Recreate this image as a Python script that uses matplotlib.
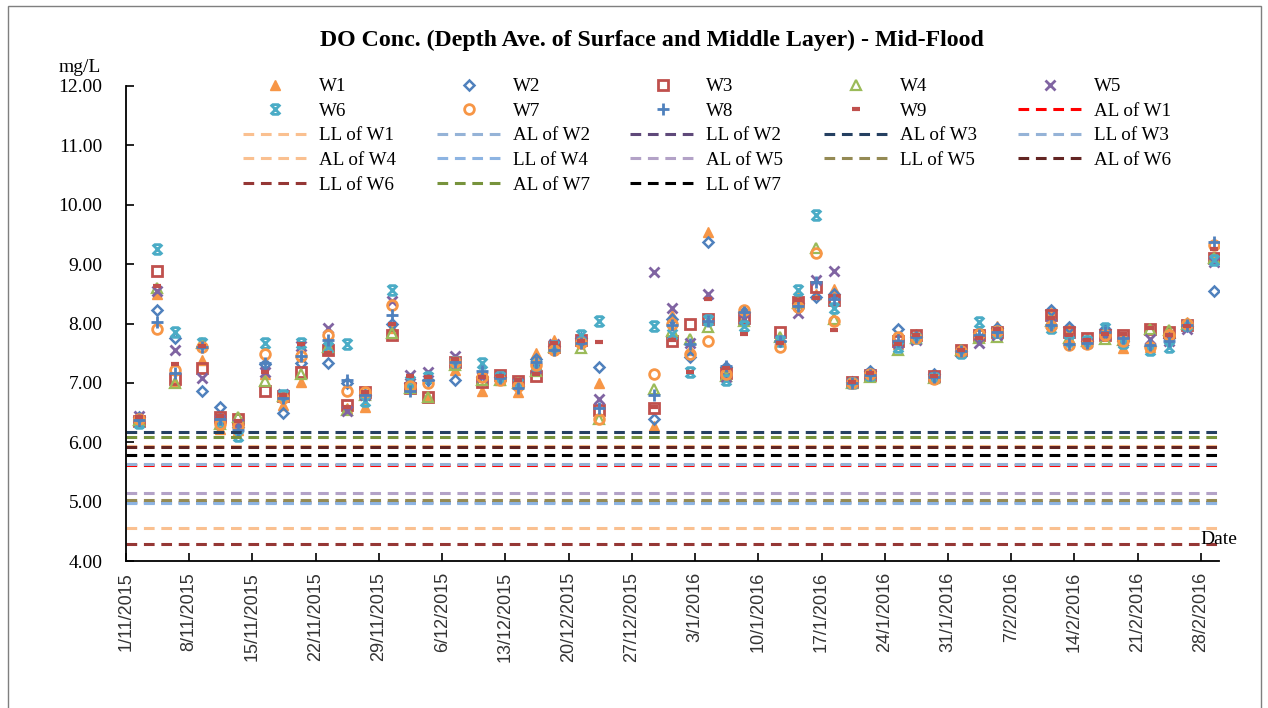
#!/usr/bin/env python3
import matplotlib
matplotlib.use("Agg")
import matplotlib.pyplot as plt
import pandas as pd
from matplotlib.path import Path
from matplotlib.patches import Rectangle
from matplotlib.ticker import FormatStrFormatter

# sampling dates (sampling done at about 10 am)
DATES = [
    "2015-11-02", "2015-11-04", "2015-11-06", "2015-11-09", "2015-11-11", "2015-11-13",
    "2015-11-16", "2015-11-18", "2015-11-20", "2015-11-23", "2015-11-25", "2015-11-27",
    "2015-11-30", "2015-12-02", "2015-12-04", "2015-12-07", "2015-12-10", "2015-12-12",
    "2015-12-14", "2015-12-16", "2015-12-18", "2015-12-21", "2015-12-23", "2015-12-29",
    "2015-12-31", "2016-01-02", "2016-01-04", "2016-01-06", "2016-01-08", "2016-01-12",
    "2016-01-14", "2016-01-16", "2016-01-18", "2016-01-20", "2016-01-22", "2016-01-25",
    "2016-01-27", "2016-01-29", "2016-02-01", "2016-02-03", "2016-02-05", "2016-02-11",
    "2016-02-13", "2016-02-15", "2016-02-17", "2016-02-19", "2016-02-22", "2016-02-24",
    "2016-02-26", "2016-02-29",
]

W1 = [6.35, 8.50, 7.02, 7.38, 6.23, 6.20, 7.15, 6.62, 7.01, 7.55, 6.58, 6.59, 7.92, 6.95, 6.76, 7.21, 6.87,
      7.05, 6.85, 7.50, 7.72, 7.75, 6.99, 6.28, 8.15, 7.55, 9.54, 7.15, 8.20, 7.72, 8.45, 8.50, 8.58, 7.00,
      7.15, 7.65, 7.82, 7.10, 7.55, 7.78, 7.95, 8.20, 7.92, 7.75, 7.82, 7.59, 7.60, 7.88, 8.03, 9.10]
W2 = [6.42, 8.22, 7.75, 6.86, 6.60, 6.25, 7.32, 6.49, 7.33, 7.33, 7.00, 6.80, 8.00, 7.00, 7.05, 7.05, 7.10,
      7.10, 6.95, 7.41, 7.62, 7.75, 7.27, 6.39, 8.08, 7.43, 9.38, 7.27, 8.20, 7.70, 8.35, 8.44, 8.50, 7.01,
      7.20, 7.91, 7.78, 7.15, 7.54, 7.85, 7.93, 8.23, 7.94, 7.70, 7.90, 7.70, 7.62, 7.75, 7.95, 8.55]
W3 = [6.35, 8.89, 7.07, 7.25, 6.42, 6.40, 6.86, 6.78, 7.18, 7.56, 6.62, 6.85, 7.80, 6.92, 6.76, 7.35, 7.01,
      7.14, 7.04, 7.11, 7.60, 7.72, 6.55, 6.57, 7.70, 8.00, 8.08, 7.17, 8.10, 7.85, 8.36, 8.61, 8.39, 7.02,
      7.14, 7.70, 7.80, 7.12, 7.55, 7.80, 7.85, 8.15, 7.85, 7.75, 7.80, 7.80, 7.91, 7.85, 7.98, 9.11]
W4 = [6.38, 8.60, 7.00, 7.68, 6.30, 6.42, 7.03, 6.78, 7.15, 7.60, 6.55, 6.80, 7.84, 6.92, 6.77, 7.30, 7.05,
      7.05, 7.00, 7.20, 7.60, 7.58, 6.40, 6.90, 7.88, 7.74, 7.94, 7.12, 8.05, 7.78, 8.35, 9.28, 8.07, 6.99,
      7.10, 7.55, 7.76, 7.08, 7.55, 7.75, 7.78, 8.05, 7.75, 7.70, 7.74, 7.72, 7.90, 7.89, 8.00, 9.10]
W5 = [6.45, 8.55, 7.56, 7.09, 6.38, 6.30, 7.18, 6.82, 7.62, 7.92, 6.52, 6.80, 8.38, 7.14, 7.19, 7.45, 7.10,
      7.10, 7.00, 7.25, 7.65, 7.70, 6.73, 8.87, 8.26, 7.68, 8.49, 7.10, 8.08, 7.72, 8.18, 8.73, 8.88, 7.00,
      7.15, 7.68, 7.73, 7.10, 7.52, 7.68, 7.80, 8.00, 7.70, 7.68, 7.80, 7.70, 7.74, 7.70, 7.90, 9.03]
W6 = [6.32, 9.25, 7.86, 7.68, 6.33, 6.11, 7.67, 6.80, 7.67, 7.60, 7.65, 6.70, 8.57, 7.04, 7.10, 7.35, 7.33,
      7.10, 6.98, 7.30, 7.62, 7.80, 8.05, 7.95, 7.83, 7.19, 8.06, 7.05, 7.95, 7.70, 8.57, 9.83, 8.26, 7.00,
      7.13, 7.60, 7.75, 7.08, 7.50, 8.03, 7.85, 7.92, 7.70, 7.70, 7.93, 7.68, 7.56, 7.61, 7.98, 9.07]
W7 = [6.40, 7.90, 7.21, 7.60, 6.30, 6.28, 7.49, 6.75, 7.45, 7.80, 6.87, 6.84, 8.32, 6.94, 7.00, 7.35, 7.10,
      7.05, 6.95, 7.30, 7.55, 7.67, 6.40, 7.15, 8.00, 7.49, 7.70, 7.15, 8.23, 7.61, 8.28, 9.18, 8.04, 6.99,
      7.15, 7.77, 7.75, 7.07, 7.54, 7.82, 7.88, 7.95, 7.63, 7.65, 7.80, 7.70, 7.60, 7.80, 8.00, 9.33]
W8 = [6.38, 8.02, 7.17, 7.60, 6.40, 6.20, 7.33, 6.75, 7.45, 7.73, 7.05, 6.80, 8.15, 6.86, 7.05, 7.35, 7.20,
      7.08, 6.92, 7.35, 7.55, 7.68, 6.57, 6.80, 7.97, 7.65, 8.05, 7.29, 8.20, 7.70, 8.30, 8.70, 8.42, 7.00,
      7.14, 7.70, 7.78, 7.10, 7.53, 7.80, 7.85, 7.98, 7.65, 7.68, 7.85, 7.75, 7.63, 7.70, 7.97, 9.38]
W9 = [6.42, 8.64, 7.31, 7.62, 6.45, 6.35, 7.18, 6.80, 7.66, 7.50, 6.60, 6.85, 8.00, 7.12, 7.10, 7.40, 7.10,
      7.12, 7.05, 7.15, 7.68, 7.70, 7.69, 6.60, 7.72, 7.18, 8.42, 7.25, 7.83, 7.68, 8.40, 8.43, 7.89, 7.01,
      7.16, 7.65, 7.80, 7.12, 7.56, 7.75, 7.90, 8.10, 7.80, 7.72, 7.82, 7.83, 7.92, 7.80, 7.95, 9.25]

# action levels (AL) and limit levels (LL), mg/L
LIMIT_LABELS = ["AL of W1", "LL of W1", "AL of W2", "LL of W2", "AL of W3", "LL of W3", "AL of W4",
                "LL of W4", "AL of W5", "LL of W5", "AL of W6", "LL of W6", "AL of W7", "LL of W7"]
LIMIT_VALUES = [5.62, 4.55, 5.64, 5.00, 6.17, 4.97, 5.93, 4.98, 5.15, 5.02, 5.92, 4.28, 6.09, 5.79]

LIMIT_COLORS = ["#FF0000", "#FAC090", "#95B3D7", "#5F497A", "#254061", "#95B3D7", "#FAC090",
                "#8DB4E2", "#B3A2C7", "#948A54", "#632523", "#953735", "#77933C", "#000000"]

# Excel "star" marker: an X closed by bars on top and bottom
STAR = Path([(-1, 1), (1, -1), (-1, -1), (1, 1), (-0.7, 1), (0.7, 1), (-0.7, -1), (0.7, -1)],
            [Path.MOVETO, Path.LINETO] * 4)

SERIES_STYLE = {
    "W1": dict(marker="^", color="#F79646", mfc="#F79646", ms=7, mew=1),
    "W2": dict(marker="D", color="#4F81BD", mfc="none", ms=5.5, mew=1.8),
    "W3": dict(marker="s", color="#C0504D", mfc="none", ms=7, mew=2),
    "W4": dict(marker="^", color="#9BBB59", mfc="none", ms=7, mew=1.6),
    "W5": dict(marker="x", color="#8064A2", mfc="none", ms=7, mew=2),
    "W6": dict(marker=STAR, color="#4BACC6", mfc="none", ms=7, mew=2),
    "W7": dict(marker="o", color="#F79646", mfc="none", ms=7, mew=2),
    "W8": dict(marker="+", color="#4F81BD", mfc="none", ms=8, mew=2),
    "W9": dict(marker="_", color="#C0504D", mfc="none", ms=6, mew=3),
}

SERIF = "Liberation Serif"
SANS = "Liberation Sans"


def main():
    dates = pd.to_datetime(DATES) + pd.Timedelta(hours=10)
    series = {"W1": W1, "W2": W2, "W3": W3, "W4": W4, "W5": W5,
              "W6": W6, "W7": W7, "W8": W8, "W9": W9}

    fig = plt.figure(figsize=(12.68, 7.08), dpi=100)
    ax = fig.add_axes([126 / 1268, 1 - 561 / 708, (1219 - 126) / 1268, (561 - 86) / 708])

    handles, labels = [], []
    for name, values in series.items():
        st = SERIES_STYLE[name]
        h, = ax.plot(dates, values, linestyle="none", marker=st["marker"], color=st["color"],
                     markerfacecolor=st["mfc"], markeredgecolor=st["color"],
                     markersize=st["ms"], markeredgewidth=st["mew"])
        handles.append(h)
        labels.append(name)

    for lab, val, col in zip(LIMIT_LABELS, LIMIT_VALUES, LIMIT_COLORS):
        h = ax.axhline(val, color=col, linewidth=2.2, linestyle=(0, (3.5, 2.2)))
        handles.append(h)
        labels.append(lab)

    # axes
    ax.set_ylim(4, 12)
    ax.set_yticks(range(4, 13))
    ax.yaxis.set_major_formatter(FormatStrFormatter("%.2f"))
    ax.set_xlim(pd.Timestamp("2015-11-01"), pd.Timestamp("2016-03-01"))
    ticks = pd.date_range("2015-11-01", "2016-02-28", freq="7D")
    ax.set_xticks(ticks)
    ax.set_xticklabels([f"{d.day}/{d.month}/{d.year}" for d in ticks], rotation=90,
                       family=SANS, fontsize=13, color="#333333")
    for t in ax.get_yticklabels():
        t.set_family(SERIF)
        t.set_fontsize(14)
    ax.tick_params(axis="y", direction="in", length=6, width=1.2, pad=17)
    ax.tick_params(axis="x", direction="in", length=6, width=1.2, pad=8)
    for s in ["top", "right"]:
        ax.spines[s].set_visible(False)
    for s in ["left", "bottom"]:
        ax.spines[s].set_linewidth(1.3)

    # Excel fills the legend row by row
    ncol = 5
    order = [r * ncol + c for c in range(ncol) for r in range(5) if r * ncol + c < len(handles)]
    ax.legend([handles[i] for i in order], [labels[i] for i in order],
              loc="upper left", bbox_to_anchor=(243 / 1268, 1 - 78 / 708),
              bbox_transform=fig.transFigure, ncol=ncol, frameon=False, numpoints=1,
              handlelength=3.4, handletextpad=0.6, columnspacing=2.13, labelspacing=0.38,
              borderpad=0, borderaxespad=0, prop={"family": SERIF, "size": 13.7})

    fig.text(652 / 1268, 1 - 40 / 708, "DO Conc. (Depth Ave. of Surface and Middle Layer) - Mid-Flood",
             ha="center", va="center", family=SERIF, fontsize=17.2, fontweight="bold")
    fig.text(80 / 1268, 1 - 68 / 708, "mg/L", ha="center", va="center", family=SERIF, fontsize=14)
    fig.text(1200 / 1268, 1 - 539 / 708, "Date", ha="left", va="center", family=SERIF, fontsize=14)

    # chart area border
    fig.patches.append(Rectangle((8 / 1268, -0.01), (1261 - 8) / 1268, 1.0015, transform=fig.transFigure,
                                 fill=False, edgecolor="#7F7F7F", linewidth=1))

    fig.savefig("out.png", dpi=100)


if __name__ == "__main__":
    main()
